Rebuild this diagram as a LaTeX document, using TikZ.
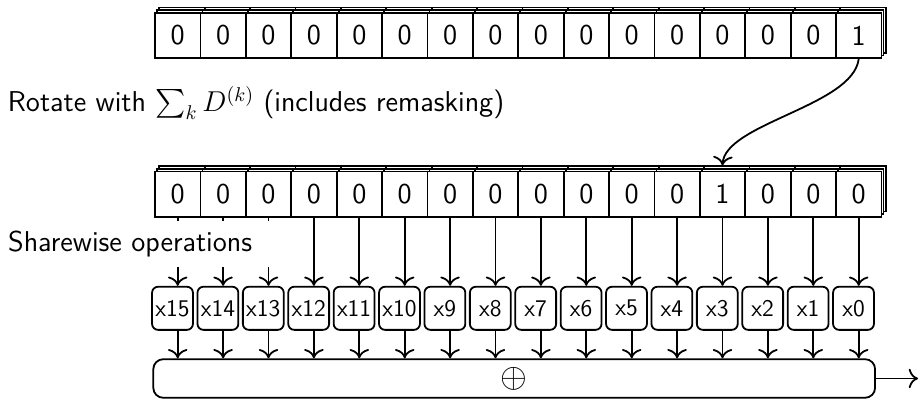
\documentclass[tikz,border=0pt]{standalone}
\usepackage{amsmath,amssymb}
\usetikzlibrary{shadows,arrows.meta}

\tikzset{
  bit/.style={draw,fill=white,minimum width=0.8cm,minimum height=0.8cm,inner sep=0pt,
    copy shadow={shadow xshift=0.076cm,shadow yshift=0.095cm},
    copy shadow={shadow xshift=0.036cm,shadow yshift=0.048cm}},
  mulbox/.style={draw,rounded corners=3pt,minimum width=0.72cm,minimum height=0.76cm,inner sep=0pt,
    font=\sffamily\fontsize{12}{14}\selectfont},
  sumbox/.style={draw,rounded corners=5pt,minimum width=12.72cm,minimum height=0.68cm,inner sep=0pt},
  caption/.style={anchor=base west,inner sep=0pt}
}

\begin{document}
\begin{tikzpicture}[x=0.01762cm,y=-0.01762cm,line width=0.9pt,>={To[scale=1.3]},
    font=\sffamily\fontsize{14.4}{17}\selectfont]
  \useasboundingbox (0,0) rectangle (920,399);
  % shares before and after rotation
  \foreach \i in {0,...,15}{
    \pgfmathtruncatemacro\v{\i==15}
    \node[bit] (a\i) at ({177.7+45.4*\i},35.5) {\v};
  }
  \foreach \i in {0,...,15}{
    \pgfmathtruncatemacro\v{\i==12}
    \node[bit] (b\i) at ({177.7+45.4*\i},194.2) {\v};
  }
  \node[caption] (rot) at (7,111.5) {Rotate with $\sum_k D^{(k)}$ (includes remasking)};
  \draw[->] (a15.south) .. controls +(-6,47) and +(2,-42) .. ([yshift=0.09cm]b12.north);
  % multiplications and the final sum
  \node[sumbox] (sum) at (514.2,378.5) {\fontsize{17}{20}\selectfont$\oplus$};
  \foreach \i in {0,...,15}{
    \pgfmathtruncatemacro\k{15-\i}
    \node[mulbox] (m\i) at ({172.5+45.4*\i},308.3) {x\k};
    \draw[->] (b\i.south) -- (b\i.south |- m\i.north);
    \draw[->] (b\i.south |- m\i.south) -- (b\i.south |- sum.north);
  }
  \node[caption,fill=white,inner xsep=10pt,inner ysep=5pt] (ops) at (-12.7,251.7) {Sharewise operations};
  \coordinate (res) at (918,378.5);
  \draw[->] (sum) -- (res);
\end{tikzpicture}
\end{document}
